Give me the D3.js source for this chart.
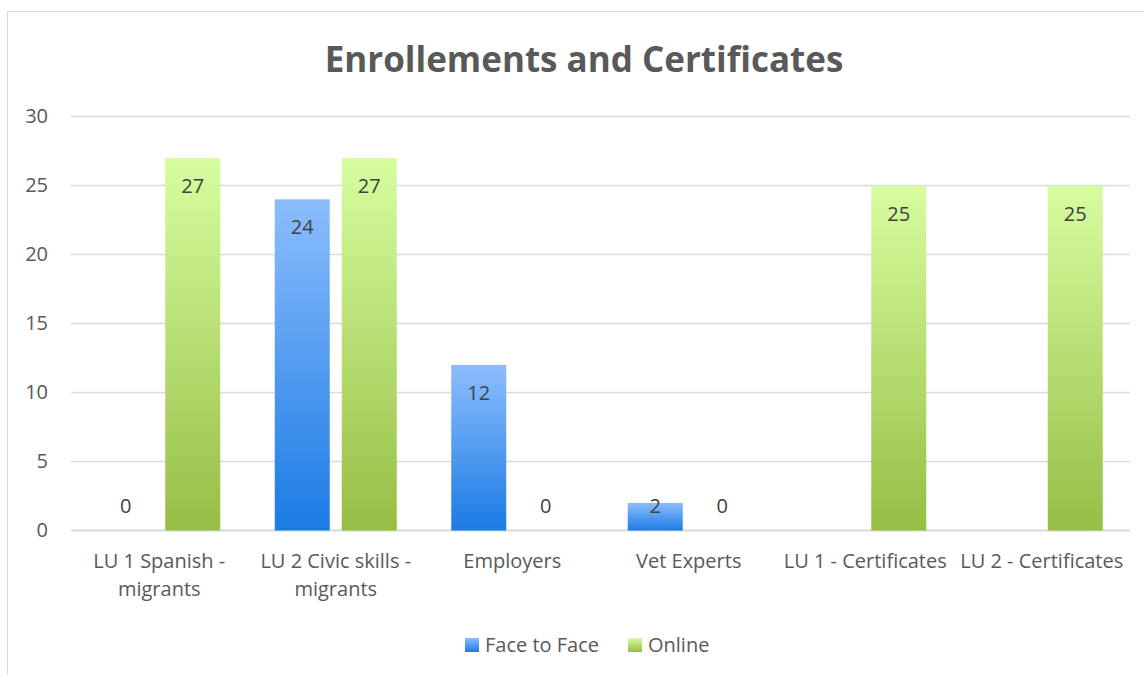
<!DOCTYPE html>
<html><head><meta charset="utf-8">
<script src="https://cdn.jsdelivr.net/npm/d3@7"></script>
<style>html,body{margin:0;padding:0;background:#fff;}svg{display:block;font-family:"Open Sans",sans-serif;}</style>
</head><body>
<svg id="c" width="1144" height="675"></svg>
<script>
const categories = [["LU 1 Spanish -","migrants"],["LU 2 Civic skills -","migrants"],["Employers"],["Vet Experts"],["LU 1 - Certificates"],["LU 2 - Certificates"]];
const seriesNames = ["Face to Face","Online"];
const faceToFace = [0,24,12,2,null,null];
const online = [27,27,0,0,25,25];
const yTicks = [0,5,10,15,20,25,30];
const title = "Enrollements and Certificates";

(function(){
const svg = d3.select("#c");
const pL = 71, pR = 1130, pT = 116.5, pB = 530.5;
const fs = 20;
const defs = svg.append("defs");
const grads = [["gBlue","#8cbdfd","#1b7be4"],["gGreen","#d8fda0","#96be45"]];
grads.forEach(([id,a,b])=>{
  const g = defs.append("linearGradient").attr("id",id).attr("x1",0).attr("y1",0).attr("x2",0).attr("y2",1);
  g.append("stop").attr("offset","0%").attr("stop-color",a);
  g.append("stop").attr("offset","100%").attr("stop-color",b);
});
svg.append("rect").attr("x",7.5).attr("y",11.5).attr("width",1160).attr("height",700).attr("fill","#fff").attr("stroke","#d9d9d9").attr("stroke-width",1);

const catKeys = categories.map(c=>c.join(" "));
const x0 = d3.scaleBand().domain(catKeys).range([pL,pR]).padding(0);
const grp = 122;
const x1 = d3.scaleBand().domain(seriesNames).range([(x0.bandwidth()-grp)/2,(x0.bandwidth()+grp)/2]).paddingInner(0.179);
const y = d3.scaleLinear().domain([0,30]).range([pB,pT]);

svg.append("g").selectAll("line").data(yTicks).join("line")
  .attr("x1",pL).attr("x2",pR).attr("y1",d=>y(d)).attr("y2",d=>y(d))
  .attr("stroke","#d9d9d9").attr("stroke-width",d=>d===0?2:1.5);

const ya = svg.append("g").attr("transform",`translate(${pL},0)`).call(d3.axisLeft(y).tickValues(yTicks).tickSize(0).tickPadding(23));
ya.select(".domain").remove();
ya.selectAll("text").attr("font-size",fs).attr("fill","#595959").attr("font-family","Open Sans");

const data = [faceToFace, online];
const fills = ["url(#gBlue)","url(#gGreen)"];
seriesNames.forEach((s,si)=>{
  const vals = data[si];
  const g = svg.append("g");
  catKeys.forEach((k,ci)=>{
    const v = vals[ci];
    if(v===null) return;
    const bx = x0(k)+x1(s);
    if(v>0) g.append("rect").attr("x",bx).attr("y",y(v)).attr("width",x1.bandwidth()).attr("height",y(0)-y(v)).attr("fill",fills[si]);
    const ly = Math.min(y(v)+28, pB-24.5);
    g.append("text").attr("x",bx+x1.bandwidth()/2).attr("y",ly).attr("dy","0.35em").attr("text-anchor","middle")
      .attr("font-size",fs).attr("fill","#404040").text(v);
  });
});

const xl = svg.append("g");
categories.forEach((c,ci)=>{
  const cx = x0(catKeys[ci])+x0.bandwidth()/2;
  const t = xl.append("text").attr("x",cx).attr("y",568).attr("text-anchor","middle").attr("font-size",fs).attr("fill","#595959");
  c.forEach((line,li)=>t.append("tspan").attr("x",cx).attr("dy",li===0?0:28).text(line));
});

svg.append("text").attr("x",584).attr("y",72).attr("text-anchor","middle").attr("font-size",35).attr("font-weight","bold").attr("fill","#595959").text(title);

const legend = [["Face to Face",465,"url(#gBlue)",485],["Online",628,"url(#gGreen)",648]];
legend.forEach(([name,sx,f,tx])=>{
  svg.append("rect").attr("x",sx).attr("y",638).attr("width",14).attr("height",14).attr("fill",f);
  svg.append("text").attr("x",tx).attr("y",645).attr("dy","0.35em").attr("font-size",fs).attr("fill","#595959").text(name);
});
})();
</script>
</body></html>
